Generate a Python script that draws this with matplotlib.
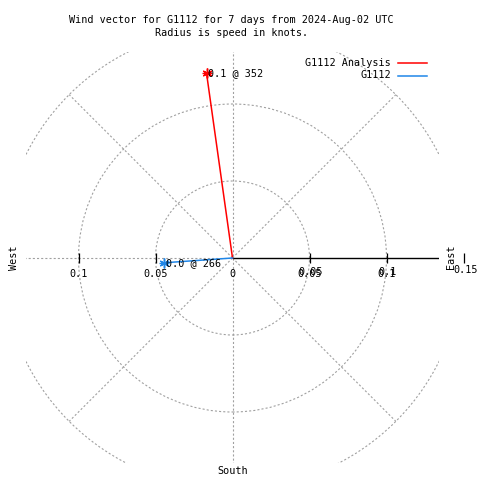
import numpy as np
import matplotlib
matplotlib.use("Agg")
import matplotlib.pyplot as plt
from matplotlib.patches import Circle

# ---- data ----
series_names = ["G1112 Analysis", "G1112"]
series_colors = ["#ff0000", "#1f86e8"]
speeds = [0.121, 0.0445]          # knots
directions = [352, 266]           # degrees clockwise from north
ring_values = [0.05, 0.1, 0.15]
tick_values = [-0.1, -0.05, 0.05, 0.1, 0.15]
left_tick_labels = ["0.1", "0.05"]
right_tick_labels = ["0.05", "0.1"]
title = "Wind vector for G1112 for 7 days from 2024-Aug-02 UTC\nRadius is speed in knots."

FONT = "DejaVu Sans Mono"
FS = 7.3
GRID = "#a0a0a0"
plt.rcParams["lines.scale_dashes"] = False
DASH = (0, (1.5, 1.5))

W = H = 480
fig = plt.figure(figsize=(4.8, 4.8), dpi=100)
# axes box in pixels: x 26..439, y(top) 52..463
ax = fig.add_axes([26 / W, (H - 463) / H, 413 / W, 411 / H])
ppu = 1540.0  # pixels per knot
cx, cy = 232.5, 258.0
ax.set_xlim((26 - cx) / ppu, (439 - cx) / ppu)
ax.set_ylim((cy - 463) / ppu, (cy - 52) / ppu)
ax.axis("off")

# rings
for r in ring_values:
    c = Circle((0, 0), r, fill=False, ec=GRID, lw=0.8, ls=DASH)
    ax.add_patch(c)
# diagonal spokes
rmax = ring_values[-1]
for a in [45, 135, 225, 315]:
    t = np.deg2rad(a)
    ax.plot([0, rmax * np.cos(t)], [0, rmax * np.sin(t)], color=GRID, lw=0.8, ls=DASH)
# vertical and west lines
ax.plot([0, 0], [-1, 1], color=GRID, lw=0.8, ls=DASH)
ax.plot([-1, 0], [0, 0], color=GRID, lw=0.8, ls=DASH)
# east axis
ax.plot([0, 1], [0, 0], color="black", lw=1.0)
# ticks
ax.plot(tick_values, np.zeros(len(tick_values)), "|", color="black", ms=6.5, mew=0.9, clip_on=False)

# tick labels
txt = dict(fontfamily=FONT, fontsize=FS, ha="center", va="center", color="black")
lab_y = -(274 - cy) / ppu
for v, s in zip([-0.1, -0.05], left_tick_labels):
    ax.text(v, lab_y, s, **txt)
ax.text(0, lab_y, "0", **txt)
for v, s in zip([0.05, 0.1], right_tick_labels):
    ax.text(v, lab_y, s, **txt)
    ax.annotate(s, (v, lab_y), xytext=(1.0, 1.2), textcoords="offset points", **txt)
ax.text(0.15 + 2 / ppu, -(270 - cy) / ppu, "0.15", clip_on=False, **txt)

# direction labels
ax.text(-(cx - 14) / ppu, 0, "West", rotation=90, clip_on=False, **txt)
ax.text((451 - cx) / ppu, -(257 - cy) / ppu, "East", rotation=90, clip_on=False, **txt)
ax.text(0, -(471 - cy) / ppu, "South", clip_on=False, **txt)

# vectors
for name, col, s, d in zip(series_names, series_colors, speeds, directions):
    t = np.deg2rad(d)
    x, y = s * np.sin(t), s * np.cos(t)
    ax.plot([0, x], [0, y], color=col, lw=1.1, zorder=5)
    ax.plot([x], [y], marker=(6, 2, 0), color=col, ms=7, mew=1.0, zorder=6)
    ax.plot([x], [y], marker="+", color=col, ms=7, mew=1.0, zorder=6)
    ax.annotate(f"{s:.1f} @ {d:.0f}", (x, y), xytext=(1.3, 0), textcoords="offset points",
                fontfamily=FONT, fontsize=FS, ha="left", va="center", color="black", zorder=7)

# legend (manual, gnuplot style)
for i, (name, col) in enumerate(zip(series_names, series_colors)):
    ly = 62.5 + i * 13
    fig.text(391 / W, 1 - ly / H, name, fontfamily=FONT, fontsize=FS, ha="right", va="center")
    fig.add_artist(plt.Line2D([398 / W, 427 / W], [1 - ly / H, 1 - ly / H], color=col, lw=1.1))

# title
l1, l2 = title.split("\n")
fig.text(231.5 / W, 1 - 20 / H, l1, fontfamily=FONT, fontsize=FS, ha="center", va="center")
fig.text(231.5 / W, 1 - 33 / H, l2, fontfamily=FONT, fontsize=FS, ha="center", va="center")

fig.savefig("out.png", dpi=100, facecolor="white")
